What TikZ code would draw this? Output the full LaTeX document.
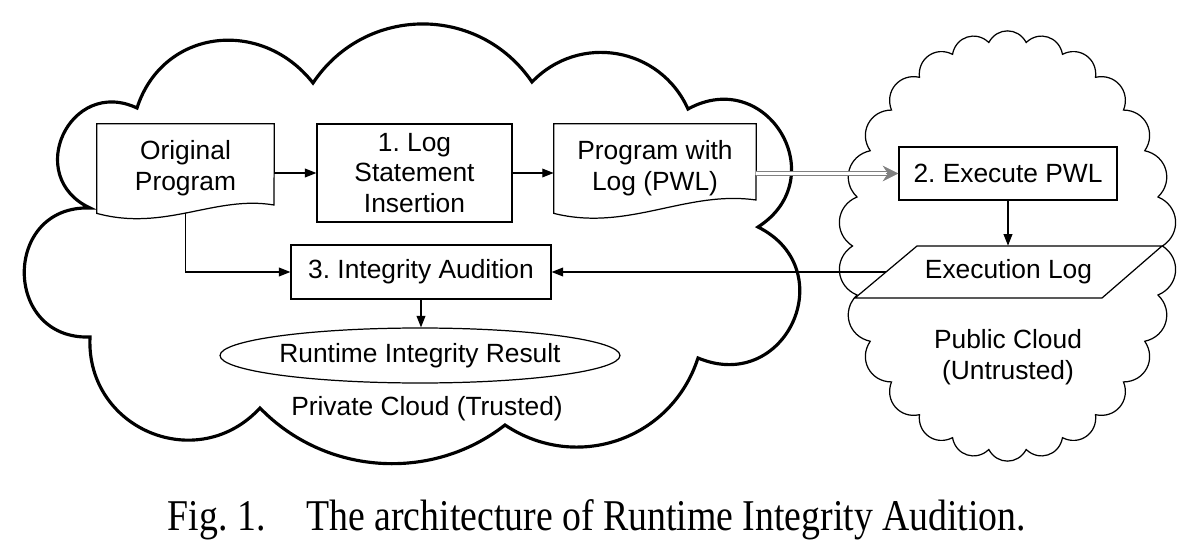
\documentclass[tikz,border=0pt]{standalone}
\usepackage{fontspec}
\usepackage{graphicx}
\setmainfont{Liberation Sans}
\newfontfamily\capfont{Liberation Serif}
\usetikzlibrary{calc,arrows.meta,shapes.geometric}
\begin{document}
\begin{tikzpicture}[x=0.02cm,y=-0.02cm,
  font=\fontsize{15}{17.5}\selectfont\frenchspacing,
  box/.style={draw, line width=0.7pt, align=center, inner sep=0pt},
  plain/.style={align=center, inner sep=0pt},
  outl/.style={line width=0.7pt, line join=miter},
  arr/.style={line width=0.6pt, -{Triangle[length=6.5pt,width=5pt]}},
  bigcloud/.style={line width=1.8pt, line join=miter},
  smallcloud/.style={line width=0.7pt, line join=miter},
  grayshaft/.style={draw=gray, line width=0.8pt, double=white, double distance=1.2pt},
  graytip/.style={draw=gray, fill=gray, line width=0.4pt, -{Stealth[length=9pt,width=9pt,inset=3pt,gray]}},
]
\useasboundingbox (0,0) rectangle (1194,544);

% ---------- big cloud (private) ----------
\coordinate (c1) at (137,108);
\coordinate (c2) at (313,83);
\coordinate (c3) at (532,82);
\coordinate (c4) at (688,109);
\coordinate (c5) at (758,227);
\coordinate (c6) at (698,358);
\coordinate (c7) at (505,425);
\coordinate (c8) at (260,408);
\coordinate (c9) at (90,337);
\coordinate (c10) at (90,208);
\draw[bigcloud] (c1)
  .. controls ($(c1)!0.47!64:(c2)$) and ($(c2)!0.47!-60:(c1)$) .. (c2)
  .. controls ($(c2)!0.43!56:(c3)$) and ($(c3)!0.43!-56:(c2)$) .. (c3)
  .. controls ($(c3)!0.43!56:(c4)$) and ($(c4)!0.43!-56:(c3)$) .. (c4)
  .. controls ($(c4)!0.66!88:(c5)$) and ($(c5)!0.66!-88:(c4)$) .. (c5)
  .. controls ($(c5)!0.66!88:(c6)$) and ($(c6)!0.66!-88:(c5)$) .. (c6)
  .. controls ($(c6)!0.42!53:(c7)$) and ($(c7)!0.42!-53:(c6)$) .. (c7)
  .. controls ($(c7)!0.38!42:(c8)$) and ($(c8)!0.38!-42:(c7)$) .. (c8)
  .. controls ($(c8)!0.5!70:(c9)$) and ($(c9)!0.5!-70:(c8)$) .. (c9)
  .. controls ($(c9)!0.68!92:(c10)$) and ($(c10)!0.68!-92:(c9)$) .. (c10)
  .. controls ($(c10)!0.67!90:(c1)$) and ($(c1)!0.67!-90:(c10)$) .. (c1)
  -- cycle;

% ---------- small cloud (public) ----------
\foreach \i in {0,...,25} {
  \coordinate (s\i) at ({1007.5+155*cos(\i*360/26)}, {246+205*sin(\i*360/26)});
}
\draw[smallcloud] (s0)
  \foreach \i [evaluate=\i as \j using {int(mod(\i+1,26))}] in {0,...,25} {
    .. controls ($(s\i)!0.47!62:(s\j)$) and ($(s\j)!0.47!-62:(s\i)$) .. (s\j)
  } -- cycle;

% ---------- nodes ----------
\node[plain, minimum width=3.54cm, minimum height=1.78cm] (orig) at (185.5,168.5) {Original\\Program};
\draw[outl] (orig.south west) -- (orig.north west) -- (orig.north east) -- (274,205)
  .. controls (215,195) and (165,232) .. (orig.south west) -- cycle;

\node[box, minimum width=3.9cm, minimum height=1.96cm] (log) at (414.5,173) {1. Log\\Statement\\Insertion};

\node[plain, minimum width=4.04cm, minimum height=1.78cm] (pwl) at (655,168.5) {Program with\\Log (PWL)};
\draw[outl] (pwl.south west) -- (pwl.north west) -- (pwl.north east) -- (756,200)
  .. controls (686,190) and (628,232) .. (pwl.south west) -- cycle;

\node[box, minimum width=4.36cm, minimum height=1.06cm] (exec) at (1008,173.5) {2. Execute PWL};

\node[plain, minimum height=1.04cm] (elog) at (1008.5,272) {Execution Log};
\draw[outl] (917,246) -- (1162,246) -- (1102,298) -- (855,298) -- cycle;
\coordinate (elogw) at (886,272);

\node[box, minimum width=5.2cm, minimum height=1.08cm] (ia) at (421,272) {3. Integrity Audition};

\node[draw, ellipse, line width=0.7pt, minimum width=8cm, minimum height=1.1cm, inner sep=0pt] (res) at (420,355.5) {Runtime Integrity Result};

\node[plain, anchor=base] (priv) at (427,415) {Private Cloud (Trusted)};
\node[plain] (pub) at (1008,357) {Public Cloud\\(Untrusted)};

% ---------- connectors ----------
\draw[arr] (orig.east |- log.west) -- (log.west);
\draw[arr] (log.east) -- (log.east -| pwl.west);
\draw[grayshaft, shorten >=6pt] (pwl.east |- exec.west) -- (exec.west);
\draw[graytip] ($(exec.west)+(-12,0)$) -- (exec.west);
\draw[arr] (exec.south) -- (exec.south |- elog.north);
\draw[arr] (elogw) -- (ia.east);
\draw[arr] (orig.south) |- (ia.west);
\draw[arr] (ia.south) -- (ia.south |- res.north);

% ---------- caption ----------
\node[anchor=base, inner sep=0pt, font={\fontsize{25}{30}\capfont}] (cap) at (597,530)
  {\scalebox{0.86}[1]{Fig.~1.\hspace{0.95cm}The architecture of Runtime Integrity Audition.}};
\end{tikzpicture}
\end{document}
